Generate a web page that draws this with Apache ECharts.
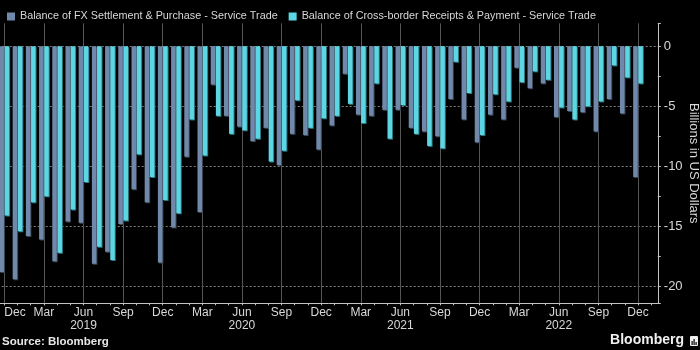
<!DOCTYPE html>
<html><head><meta charset="utf-8">
<script src="https://cdn.jsdelivr.net/npm/echarts@6/dist/echarts.min.js"></script>
<style>html,body{margin:0;padding:0;background:#000;}#c{width:700px;height:350px;}</style>
</head><body><div id="c"></div>
<script>
// ---- data ----
const months = [
  'Dec 2018','Jan 2019','Feb 2019','Mar 2019','Apr 2019','May 2019','Jun 2019','Jul 2019','Aug 2019','Sep 2019','Oct 2019','Nov 2019',
  'Dec 2019','Jan 2020','Feb 2020','Mar 2020','Apr 2020','May 2020','Jun 2020','Jul 2020','Aug 2020','Sep 2020','Oct 2020','Nov 2020',
  'Dec 2020','Jan 2021','Feb 2021','Mar 2021','Apr 2021','May 2021','Jun 2021','Jul 2021','Aug 2021','Sep 2021','Oct 2021','Nov 2021',
  'Dec 2021','Jan 2022','Feb 2022','Mar 2022','Apr 2022','May 2022','Jun 2022','Jul 2022','Aug 2022','Sep 2022','Oct 2022','Nov 2022',
  'Dec 2022'
];
const fxSettlement = [
  -18.8, -19.4, -15.8, -16.1, -17.9, -14.6, -14.7, -18.1, -17.1, -14.8,
  -11.9, -13.0, -18.0, -15.1, -9.2, -13.8, -3.2, -5.8, -6.7, -7.9,
  -6.8, -9.9, -7.3, -7.4, -8.6, -6.6, -2.3, -5.7, -5.8, -5.3,
  -5.3, -6.8, -7.1, -7.5, -4.4, -6.1, -8.0, -5.7, -6.1, -1.8,
  -3.5, -3.1, -5.9, -5.4, -5.5, -7.1, -4.4, -5.6, -10.9
];
const crossBorder = [
  -14.1, -15.4, -13.0, -12.5, -17.2, -13.6, -11.3, -16.7, -17.8, -14.5,
  -9.0, -10.9, -12.8, -13.9, -6.1, -9.1, -5.8, -7.3, -7.0, -7.7,
  -9.6, -8.7, -4.5, -6.8, -6.0, -5.8, -4.8, -6.4, -3.1, -7.7,
  -4.9, -7.3, -8.3, -8.5, -1.3, -3.9, -7.4, -4.0, -4.6, -3.0,
  -2.1, -2.8, -5.1, -6.1, -5.0, -4.6, -1.6, -2.6, -3.1
];
const seriesNames = [
  'Balance of FX Settlement & Purchase - Service Trade',
  'Balance of Cross-border Receipts & Payment - Service Trade'
];
const yAxisTitle = 'Billions in US Dollars';
const sourceText = 'Source: Bloomberg';

// ---- chart ----
const FONT = '"Liberation Sans", Arial, sans-serif';
const TXT = '#d8d8d8';
const GRIDC = '#7e7e7e';
const VGRIDC = '#555555';
const AXC = '#c4c4c4';
const cats = months.concat(['']); // one empty slot after the last month

const chart = echarts.init(document.getElementById('c'), null, {renderer: 'canvas'});
chart.setOption({
  backgroundColor: '#000',
  animation: false,
  textStyle: {fontFamily: FONT},
  legend: {
    left: 2, top: 6, itemWidth: 8, itemHeight: 8, itemGap: 11, icon: 'rect',
    textStyle: {color: TXT, fontSize: 10.8, fontFamily: FONT},
    data: seriesNames
  },
  grid: {left: -2.3, right: 42.2, top: 23.3, bottom: 46.7, outerBoundsMode: 'none', containLabel: false},
  xAxis: [{
    type: 'category', data: cats, boundaryGap: true,
    axisLine: {onZero: false, lineStyle: {color: AXC, width: 1}},
    axisTick: {show: true, interval: 0, alignWithLabel: true, length: 2, lineStyle: {color: AXC}},
    axisLabel: {
      interval: (i) => i % 3 === 0, formatter: (v) => v.slice(0, 3),
      color: TXT, fontSize: 12, margin: 3, alignMinLabel: 'left'
    },
    splitLine: {show: true, interval: 2, alignWithLabel: true,
      lineStyle: {color: VGRIDC, type: 'solid', width: 1}}
  }, {
    type: 'category', data: cats, position: 'bottom', offset: 15.7, gridIndex: 0,
    axisLine: {show: false},
    axisTick: {show: true, interval: 11, alignWithLabel: true, length: 14,
      lineStyle: {color: '#8c8c8c'}},
    axisLabel: {interval: (i) => i % 12 === 6, formatter: (v) => v.slice(4),
      color: TXT, fontSize: 12, margin: 1},
    splitLine: {show: false}
  }],
  yAxis: {
    type: 'value', position: 'right', min: -21.4, max: 1.9, splitNumber: 5,
    name: yAxisTitle, nameLocation: 'middle', nameRotate: -90, nameGap: 29, nameMoveOverlap: false,
    nameTextStyle: {color: TXT, fontSize: 13, fontFamily: FONT},
    axisLine: {show: true, lineStyle: {color: AXC}},
    axisTick: {show: true, length: 3, lineStyle: {color: AXC}},
    minorTick: {show: true, splitNumber: 2, length: 3, lineStyle: {color: AXC}},
    axisLabel: {color: TXT, fontSize: 13, margin: 6,
      formatter: (v) => (Math.abs(v % 5) < 1e-9 ? String(v) : '')},
    splitLine: {show: true, showMinLine: false, showMaxLine: false,
      lineStyle: {color: GRIDC, type: [2, 2], width: 1}}
  },
  series: [{
    name: seriesNames[0], type: 'bar', data: fxSettlement, barWidth: 4.5, barGap: '15%', z: 2,
    itemStyle: {color: '#7088a9', shadowColor: '#3a4454', shadowOffsetX: 1, shadowOffsetY: 1, shadowBlur: 0}
  }, {
    name: seriesNames[1], type: 'bar', data: crossBorder, barWidth: 4.5, barGap: '15%', z: 2,
    itemStyle: {color: '#5dd6e4', shadowColor: '#2c7880', shadowOffsetX: 1, shadowOffsetY: 1, shadowBlur: 0}
  }],
  graphic: [
    {type: 'text', left: 2, top: 336, style: {text: sourceText, fill: '#e8e8e8', font: 'bold 11.5px ' + FONT}},
    {type: 'text', right: 16, top: 333, style: {text: 'Bloomberg', fill: '#f0f0f0', font: 'bold 14px ' + FONT}},
    {type: 'group', left: 690, top: 336, children: [
      {type: 'rect', shape: {x: 0, y: 0, width: 8, height: 10, r: 1}, style: {fill: '#eeeeee'}},
      {type: 'rect', shape: {x: 1.5, y: 5, width: 1.2, height: 4}, style: {fill: '#000'}},
      {type: 'rect', shape: {x: 3.5, y: 3, width: 1.2, height: 6}, style: {fill: '#000'}},
      {type: 'rect', shape: {x: 5.5, y: 6, width: 1.2, height: 3}, style: {fill: '#000'}}
    ]}
  ]
});
</script>
</body></html>
